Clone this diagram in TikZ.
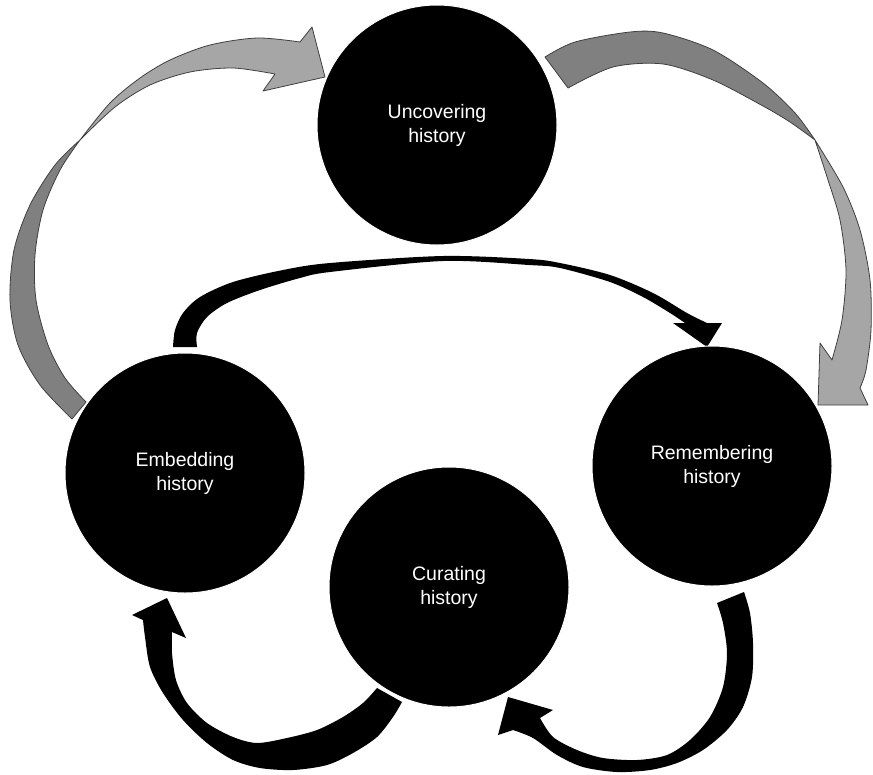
\documentclass[tikz,border=0pt]{standalone}
\usepackage{fontspec}
\setmainfont{Liberation Sans}
\begin{document}
\begin{tikzpicture}[x=1pt,y=-1pt,
  stage/.style={circle,fill=black,draw=white,line width=1pt,minimum size=240pt,inner sep=0pt,
    text=white,align=center,font=\fontsize{19.5}{24}\selectfont},
  grayedge/.style={draw=black!75,line width=0.8pt,line join=round},
  lightpart/.style={grayedge,fill=black!35},
  darkpart/.style={grayedge,fill=black!50},
  blackarrow/.style={fill=black}]
\useasboundingbox (0,0) rectangle (873,774);

% left grey arrow (Embedding -> Uncovering)
\path[darkpart] plot[smooth] coordinates {(80,140)(55,165)(30,205)(14,250)(10,300)(18,345)(40,385)(72,419)}
  -- plot[smooth] coordinates {(86,402)(65,378)(48,345)(36,300)(35,255)(43,210)(60,170)(80,140)} -- cycle;
\path[lightpart] plot[smooth] coordinates {(80,140)(110,103)(140,78)(170,60)(210,45)(257,38)(300,42)}
  -- (312,27) -- (325,77) -- (263,91)
  -- plot[smooth] coordinates {(275,74)(233,68)(190,72)(150,85)(115,107)(80,140)} -- cycle;

% right grey arrow (Uncovering -> Remembering)
\path[darkpart] plot[smooth] coordinates {(545,57)(575,42)(630,32)(663,33)(713,50)(763,83)(795,113)(815,140)}
  -- plot[smooth] coordinates {(815,140)(790,122)(763,106)(713,80)(663,64)(613,67)(568,88)} -- cycle;
\path[lightpart] plot[smooth] coordinates {(815,140)(843,187)(860,230)(870,280)(871,330)(866,370)(860,388)}
  -- (868,405) -- (818,405) -- (820,343)
  -- plot[smooth] coordinates {(832,360)(842,320)(846,270)(840,220)(828,180)(815,140)} -- cycle;

% top black arrow (Embedding -> Remembering)
\path[blackarrow] plot[smooth] coordinates {(173,347)(175,330)(183,313)(200,297)(233,282)(283,270)(330,263)(443,256)(529,259)(560,263)(610,275)(653,293)(687,313)(707,323)}
  -- (722,323) -- (707,347) -- (673,323)
  -- plot[smooth] coordinates {(685,323)(670,313)(643,297)(610,282)(560,268)(529,265)(443,261)(330,272)(300,278)(260,290)(227,303)(207,317)(197,333)(197,347)} -- cycle;

% bottom right black arrow (Remembering -> Curating)
\path[blackarrow] plot[smooth] coordinates {(744,592)(750,613)(753,643)(752,677)(743,707)(727,730)(703,750)(677,763)(650,770)(617,772)(583,767)(557,755)(533,738)(513,730)}
  -- (498,735) -- (508,697) -- (553,710)
  -- plot[smooth] coordinates {(540,718)(553,737)(577,750)(603,758)(637,760)(667,755)(690,740)(710,717)(723,687)(727,653)(723,623)(717,603)} -- cycle;

% bottom left black arrow (Curating -> Embedding)
\path[blackarrow] plot[smooth] coordinates {(402,702)(393,717)(377,737)(353,753)(327,765)(293,770)(260,768)(233,760)(207,743)(183,720)(163,693)(150,667)(145,637)(143,620)}
  -- (132,615) -- (167,598) -- (186,638)
  -- plot[smooth] coordinates {(172,632)(172,653)(176,680)(187,703)(207,723)(233,737)(257,743)(287,738)(317,730)(343,717)(363,703)(377,688)} -- cycle;

% stages
\node[stage] (unc) at (437,125) {Uncovering\\history};
\node[stage] (emb) at (185,473) {Embedding\\history};
\node[stage] (rem) at (712,466) {Remembering\\history};
\node[stage] (cur) at (449,587) {Curating\\history};
\end{tikzpicture}
\end{document}
